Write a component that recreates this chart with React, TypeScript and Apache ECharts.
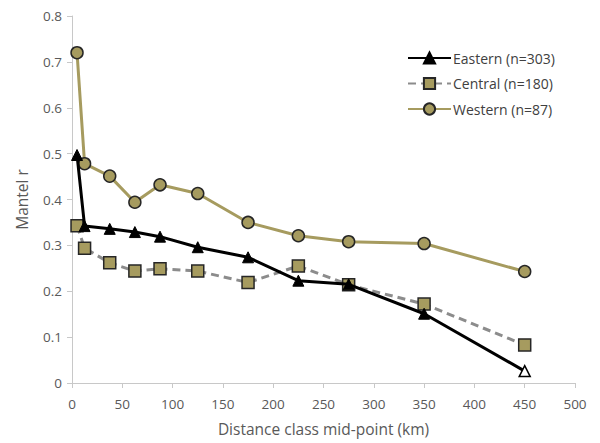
import React, { useEffect, useRef } from "react";
import * as echarts from "echarts";

const distances = [5, 12.5, 37.5, 62.5, 87.5, 125, 175, 225, 275, 350, 450];
const eastern = [0.497, 0.342, 0.336, 0.329, 0.319, 0.296, 0.274, 0.223, 0.215, 0.151, 0.026];
const central = [0.343, 0.294, 0.262, 0.244, 0.249, 0.244, 0.219, 0.255, 0.214, 0.172, 0.083];
const western = [0.72, 0.478, 0.451, 0.394, 0.432, 0.413, 0.35, 0.321, 0.308, 0.304, 0.243];
const seriesNames = ["Eastern (n=303)", "Central (n=180)", "Western (n=87)"];

const OLIVE = "#a69b5f";
const FONT = "'Open Sans', 'Liberation Sans', sans-serif";

export default function App() {
  const ref = useRef<HTMLDivElement>(null);
  useEffect(() => {
    if (!ref.current) return;
    const chart = echarts.init(ref.current, undefined, { renderer: "svg" });
    const pair = (arr: number[]) => distances.map((d, i) => [d, arr[i]]);
    const eastData: any[] = pair(eastern);
    const last = eastData.length - 1;
    eastData[last] = {
      value: eastData[last],
      itemStyle: { color: "#ffffff", borderColor: "#000000", borderWidth: 1.5 },
    };
    chart.setOption({
      animation: false,
      textStyle: { fontFamily: FONT },
      grid: { left: 72, right: 25, top: 16, bottom: 60, containLabel: false },
      legend: {
        orient: "vertical",
        left: 402,
        top: 46,
        itemWidth: 43,
        itemHeight: 14,
        itemGap: 11.5,
        textStyle: { fontSize: 14, color: "#404040", fontFamily: FONT, padding: [0, 0, 0, -3] },
        data: seriesNames,
      },
      xAxis: {
        type: "value",
        min: 0,
        max: 500,
        interval: 50,
        name: "Distance class mid-point (km)",
        nameLocation: "middle",
        nameGap: 38,
        nameTextStyle: { fontSize: 15.5, color: "#595959" },
        axisLine: { show: true, lineStyle: { color: "#c8c8c8", width: 1 } },
        axisTick: { show: true, length: 5, lineStyle: { color: "#c8c8c8" } },
        axisLabel: { fontSize: 13.5, color: "#595959", margin: 14 },
        splitLine: { show: false },
      },
      yAxis: {
        type: "value",
        min: 0,
        max: 0.8,
        interval: 0.1,
        name: "Mantel r",
        nameLocation: "middle",
        nameGap: 42,
        nameTextStyle: { fontSize: 15.5, color: "#595959" },
        axisLine: { show: true, lineStyle: { color: "#c8c8c8", width: 1 } },
        axisTick: { show: true, length: 5, lineStyle: { color: "#c8c8c8" } },
        axisLabel: { fontSize: 13.5, color: "#595959", margin: 10 },
        splitLine: { show: false },
      },
      series: [
        {
          name: seriesNames[0],
          type: "line",
          data: eastData,
          symbol: "triangle",
          symbolSize: 11,
          lineStyle: { color: "#000000", width: 3 },
          itemStyle: { color: "#000000", borderColor: "#000000", borderWidth: 1 },
          z: 4,
        },
        {
          name: seriesNames[1],
          type: "line",
          data: pair(central),
          symbol: "rect",
          symbolSize: 12,
          lineStyle: { color: "#8c8c8c", width: 3, type: [8, 5] },
          itemStyle: { color: OLIVE, borderColor: "#262626", borderWidth: 1.5 },
          z: 3,
        },
        {
          name: seriesNames[2],
          type: "line",
          data: pair(western),
          symbol: "circle",
          symbolSize: 12,
          lineStyle: { color: OLIVE, width: 3 },
          itemStyle: { color: OLIVE, borderColor: "#262626", borderWidth: 1.5 },
          z: 2,
        },
      ],
    });
    return () => chart.dispose();
  }, []);
  return <div ref={ref} style={{ width: 600, height: 443, position: "absolute", left: 0, top: 0 }} />;
}
